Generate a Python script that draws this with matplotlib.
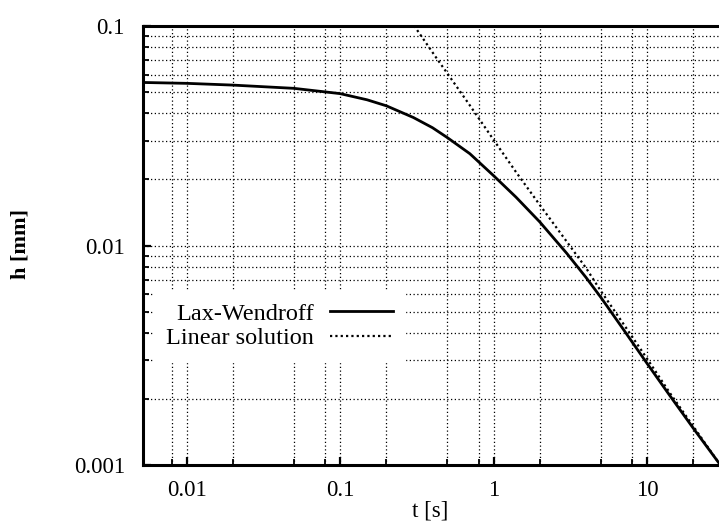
import numpy as np
import matplotlib
matplotlib.use("Agg")
import matplotlib.pyplot as plt
from matplotlib.ticker import FixedLocator, FuncFormatter, NullFormatter, LogLocator

plt.rcParams['font.family'] = ['Liberation Serif', 'DejaVu Serif']

# values
t_lw = [0.0052, 0.01, 0.02, 0.05, 0.1, 0.15, 0.2, 0.3, 0.4, 0.5, 0.7, 1.0, 1.4, 2.0,
        3.0, 4.0, 5.0, 7.0, 10.0, 14.0, 20.0, 29.4]
h_lw = [0.0553, 0.0548, 0.0538, 0.0520, 0.0492, 0.0461, 0.0433, 0.0383, 0.0344, 0.0310, 0.0262, 0.0208, 0.0166, 0.0128,
        0.0092, 0.00715, 0.0058, 0.00415, 0.0029, 0.00208, 0.00147, 0.00102]

t_lin = [0.29, 0.43, 0.5, 0.7, 1.0, 1.4, 2.0, 3.0, 4.0, 5.0, 7.0, 10.0, 14.0, 20.0, 29.4]
h_lin = [0.105, 0.0705, 0.0608, 0.0435, 0.0303, 0.0216, 0.0153, 0.0104, 0.0079, 0.0062, 0.0044, 0.00305,
         0.00214, 0.00150, 0.00102]

x_major = [0.01, 0.1, 1, 10]
x_minor = [0.008, 0.02, 0.05, 0.08, 0.2, 0.5, 0.8, 2, 5, 8, 20]
y_major = [0.001, 0.01, 0.1]

fig = plt.figure(figsize=(7.19, 5.25), dpi=100)
ax = fig.add_axes([143/719, 1-465/525, 1-143/719, (465-26)/525])

ax.plot(t_lw, h_lw, color='black', lw=2.0, label='Lax-Wendroff', solid_joinstyle='round')
ax.plot(t_lin, h_lin, color='black', lw=1.6, linestyle=(0, (1, 1.4)), label='Linear solution')

ax.set_xscale('log')
ax.set_yscale('log')
ax.set_xlim(0.0052, 29.4)
ax.set_ylim(0.001, 0.1)

ax.xaxis.set_major_locator(FixedLocator(x_major))
ax.xaxis.set_minor_locator(FixedLocator(x_minor))
ax.yaxis.set_major_locator(FixedLocator(y_major))
ax.yaxis.set_minor_locator(LogLocator(base=10, subs=np.arange(2, 10)))
fmt = FuncFormatter(lambda v, p: '%g' % v)
ax.xaxis.set_major_formatter(fmt)
ax.yaxis.set_major_formatter(fmt)
ax.xaxis.set_minor_formatter(NullFormatter())
ax.yaxis.set_minor_formatter(NullFormatter())

ax.tick_params(which='both', direction='in', colors='black', labelsize=16.5)
ax.tick_params(which='major', length=6, width=1.6)
ax.tick_params(which='minor', length=4, width=1.3)
ax.tick_params(axis='x', which='major', pad=11)
ax.tick_params(axis='y', which='major', pad=13)

ax.grid(True, which='both', color='black', lw=0.9, linestyle=(0, (1, 2.0)))

for s in ['left', 'bottom', 'top']:
    ax.spines[s].set_linewidth(2.2)
ax.spines['right'].set_visible(False)

leg = ax.legend(loc='center right', bbox_to_anchor=(405/719, 1-326/525),
                bbox_transform=fig.transFigure, markerfirst=False, frameon=True,
                fontsize=17.5, handlelength=2.6, handletextpad=0.65, labelspacing=0.12,
                borderpad=0.5, borderaxespad=0, fancybox=False)
leg.get_frame().set_edgecolor('white')
leg.get_frame().set_facecolor('white')
leg.get_frame().set_alpha(1)

fig.text(430/719, 1-511/525, 't [s]', ha='center', va='center', fontsize=16.5)
fig.text(21/719, 1-244/525, 'h [mm]', ha='center', va='center', rotation=90,
         fontsize=16, fontweight='bold')

fig.savefig('out.png', dpi=100)
